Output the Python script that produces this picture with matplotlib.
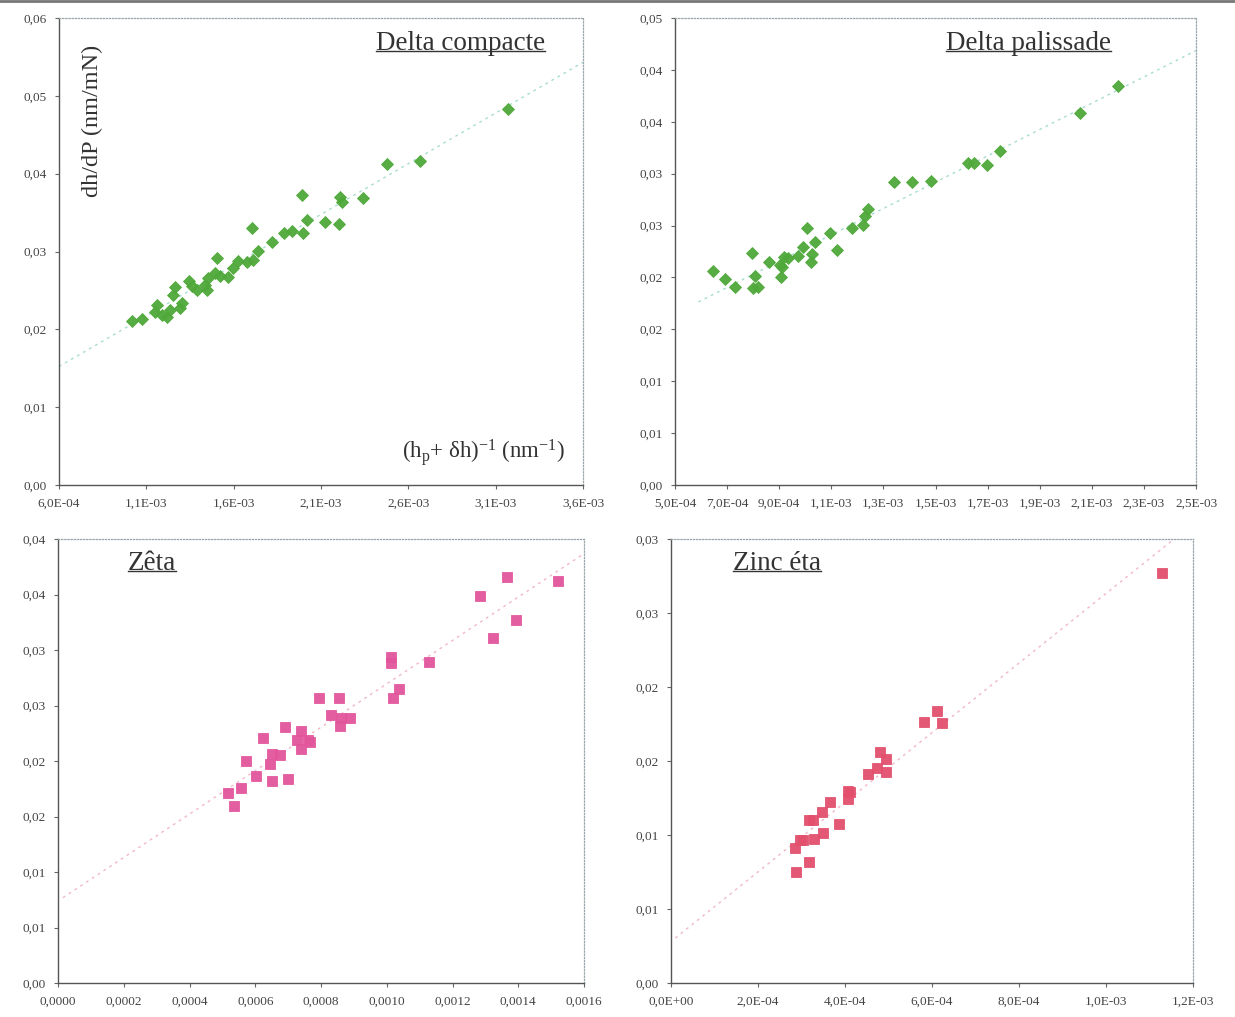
import math
import numpy as np
import matplotlib
matplotlib.use("Agg")
import matplotlib.pyplot as plt
from matplotlib.ticker import FuncFormatter, FixedLocator
from matplotlib.lines import Line2D

plt.rcParams['font.family'] = ['Liberation Serif', 'DejaVu Serif']
plt.rcParams['mathtext.fontset'] = 'custom'
plt.rcParams['mathtext.rm'] = 'Liberation Serif'
plt.rcParams['mathtext.it'] = 'Liberation Serif:italic'

# ---------------- data ----------------
dc_x = [1.016e-3, 1.073e-3, 1.150e-3, 1.159e-3, 1.188e-3, 1.217e-3, 1.235e-3, 1.254e-3,
        1.264e-3, 1.293e-3, 1.302e-3, 1.346e-3, 1.360e-3, 1.388e-3, 1.436e-3, 1.449e-3,
        1.455e-3, 1.493e-3, 1.503e-3, 1.522e-3, 1.569e-3, 1.598e-3, 1.627e-3, 1.675e-3,
        1.703e-3, 1.712e-3, 1.741e-3, 1.818e-3, 1.888e-3, 1.932e-3, 1.990e-3, 1.999e-3,
        2.022e-3, 2.123e-3, 2.205e-3, 2.209e-3, 2.219e-3, 2.342e-3, 2.476e-3, 2.667e-3,
        3.172e-3]
dc_y = [0.02111, 0.02129, 0.02227, 0.02313, 0.02184, 0.02162, 0.02248, 0.02441,
        0.02540, 0.02270, 0.02342, 0.02625, 0.02557, 0.02505, 0.02570, 0.02505,
        0.02656, 0.02720, 0.02920, 0.02685, 0.02676, 0.02784, 0.02878, 0.02869,
        0.03298, 0.02891, 0.03007, 0.03126, 0.03234, 0.03264, 0.03726, 0.03242,
        0.03405, 0.03383, 0.03353, 0.03704, 0.03640, 0.03684, 0.04124, 0.04167,
        0.04827]

dp_x = [6.47e-4, 6.92e-4, 7.30e-4, 7.94e-4, 8.07e-4, 8.01e-4, 8.20e-4, 8.61e-4,
        9.07e-4, 9.03e-4, 9.12e-4, 9.20e-4, 9.35e-4, 9.73e-4, 9.93e-4, 1.006e-3,
        1.025e-3, 1.022e-3, 1.037e-3, 1.095e-3, 1.121e-3, 1.178e-3, 1.221e-3, 1.231e-3,
        1.242e-3, 1.341e-3, 1.411e-3, 1.483e-3, 1.626e-3, 1.648e-3, 1.697e-3, 1.748e-3,
        2.055e-3, 2.202e-3]
dp_y = [0.02062, 0.01985, 0.01911, 0.02233, 0.02014, 0.01895, 0.01911, 0.02146,
        0.02007, 0.02120, 0.02098, 0.02200, 0.02184, 0.02209, 0.02290, 0.02479,
        0.02226, 0.02152, 0.02344, 0.02431, 0.02264, 0.02479, 0.02502, 0.02592,
        0.02657, 0.02915, 0.02920, 0.02929, 0.03106, 0.03106, 0.03086, 0.03218,
        0.03582, 0.03848]

ze_x = [0.5180e-3, 0.5363e-3, 0.5567e-3, 0.5719e-3, 0.6014e-3, 0.6245e-3, 0.6449e-3,
        0.6519e-3, 0.6519e-3, 0.6753e-3, 0.6905e-3, 0.6987e-3, 0.7261e-3, 0.7392e-3,
        0.7392e-3, 0.7614e-3, 0.7665e-3, 0.7939e-3, 0.8304e-3, 0.8548e-3, 0.8608e-3,
        0.8882e-3, 0.8578e-3, 1.0129e-3, 1.0129e-3, 1.0199e-3, 1.0373e-3, 1.1285e-3,
        1.2837e-3, 1.3649e-3, 1.3932e-3, 1.3241e-3, 1.5200e-3]
ze_y = [0.01714, 0.01595, 0.01759, 0.02000, 0.01865, 0.02207, 0.01973,
        0.01820, 0.02060, 0.02054, 0.02304, 0.01835, 0.02189, 0.02270,
        0.02105, 0.02189, 0.02168, 0.02565, 0.02412, 0.02570, 0.02385,
        0.02385, 0.02318, 0.02937, 0.02883, 0.02565, 0.02646, 0.02895,
        0.03486, 0.03660, 0.03270, 0.03111, 0.03624]

zn_x = [0.2874e-3, 0.3172e-3, 0.2851e-3, 0.2966e-3, 0.3041e-3, 0.3287e-3, 0.3501e-3,
        0.3179e-3, 0.3271e-3, 0.3464e-3, 0.3655e-3, 0.3869e-3, 0.4076e-3, 0.4115e-3,
        0.4062e-3, 0.4536e-3, 0.4743e-3, 0.4805e-3, 0.4943e-3, 0.4936e-3, 0.5816e-3,
        0.6108e-3, 0.6237e-3, 1.1287e-3]
zn_y = [0.00752, 0.00820, 0.00910, 0.00966, 0.00966, 0.00971, 0.01011,
        0.01101, 0.01101, 0.01153, 0.01225, 0.01074, 0.01297, 0.01293,
        0.01243, 0.01410, 0.01451, 0.01563, 0.01511, 0.01424, 0.01766,
        0.01840, 0.01755, 0.02770]

titles = ["Delta compacte", "Delta palissade", "Zêta", "Zinc éta"]

# ---------------- formatters ----------------
def fmt_dec(nd):
    def f(v, pos):
        q = 10 ** nd
        r = math.floor(abs(v) * q + 0.5 + 1e-9) / q
        return (f"{r:.{nd}f}").replace('.', ',')
    return FuncFormatter(f)

def fmt_sci(v, pos):
    if abs(v) < 1e-15:
        return "0,0E+00"
    e = int(math.floor(math.log10(abs(v)) + 1e-9))
    m = v / 10 ** e
    m = math.floor(m * 10 + 0.5 + 1e-9) / 10
    if m >= 10:
        m /= 10
        e += 1
    sign = '+' if e >= 0 else '-'
    return f"{m:.1f}".replace('.', ',') + f"E{sign}{abs(e):02d}"

def ticks(lo, hi, step):
    n = int(round((hi - lo) / step))
    return [lo + i * step for i in range(n + 1)]

fig = plt.figure(figsize=(12.35, 10.17), dpi=100)
fig.patch.set_facecolor('white')

green = '#4fa83a'
pink = '#e2559c'
red = '#e2506e'

panels = [
    dict(rect=[59/1235, 1-485/1017, 524/1235, 467/1017], x=dc_x, y=dc_y,
         xlim=(6e-4, 3.6e-3), xstep=5e-4, ylim=(0, 0.06), ystep=0.01,
         xfmt=FuncFormatter(fmt_sci), marker='D', color=green, ms=6,
         line=(6e-4, 3.6e-3), lcolor='#a8dcd0', title=titles[0], tpos=(0.767, 0.945)),
    dict(rect=[675/1235, 1-485/1017, 521/1235, 467/1017], x=dp_x, y=dp_y,
         xlim=(5e-4, 2.5e-3), xstep=2e-4, ylim=(0, 0.045), ystep=0.005,
         xfmt=FuncFormatter(fmt_sci), marker='D', color=green, ms=6,
         line=(5.9e-4, 2.5e-3), lcolor='#a8dcd0', title=titles[1], tpos=(0.679, 0.945)),
    dict(rect=[58/1235, 1-983/1017, 526/1235, 444/1017], x=ze_x, y=ze_y,
         xlim=(0, 1.6e-3), xstep=2e-4, ylim=(0, 0.04), ystep=0.005,
         xfmt=fmt_dec(4), marker='s', color=pink, ms=7.5,
         line=(1.5e-5, 1.6e-3), lcolor='#f0b8c8', title=titles[2], tpos=(0.179, 0.945)),
    dict(rect=[671/1235, 1-983/1017, 522/1235, 444/1017], x=zn_x, y=zn_y,
         xlim=(0, 1.2e-3), xstep=2e-4, ylim=(0, 0.03), ystep=0.005,
         xfmt=FuncFormatter(fmt_sci), marker='s', color=red, ms=7.5,
         line=(1.0e-5, 1.2e-3), lcolor='#f0b8c8', title=titles[3], tpos=(0.203, 0.945)),
]

axes = []
for p in panels:
    ax = fig.add_axes(p['rect'])
    axes.append(ax)
    ax.set_xlim(*p['xlim'])
    ax.set_ylim(*p['ylim'])
    ax.xaxis.set_major_locator(FixedLocator(ticks(p['xlim'][0], p['xlim'][1], p['xstep'])))
    ax.yaxis.set_major_locator(FixedLocator(ticks(p['ylim'][0], p['ylim'][1], p['ystep'])))
    ax.xaxis.set_major_formatter(p['xfmt'])
    ax.yaxis.set_major_formatter(fmt_dec(2))
    ax.tick_params(axis='both', labelsize=9.5, labelcolor='#444444', color='#666666',
                   length=3, width=0.8, direction='out')
    ax.tick_params(axis='y', pad=6)
    ax.tick_params(axis='x', pad=6)
    for side in ['left', 'bottom']:
        ax.spines[side].set_color('#555555')
        ax.spines[side].set_linewidth(1.0)
    for side in ['top', 'right']:
        ax.spines[side].set_color('#9aa6aa')
        ax.spines[side].set_linewidth(0.9)
        ax.spines[side].set_linestyle((0, (1, 1.5)))
    # trend line (least squares fit of the points)
    xs = np.array(p['x']); ys = np.array(p['y'])
    k, b = np.polyfit(xs, ys, 1)
    lx = np.array(p['line'])
    ax.plot(lx, k * lx + b, color=p['lcolor'], lw=1.0, linestyle=(0, (2, 3)), zorder=1)
    ax.plot(xs, ys, linestyle='none', marker=p['marker'], ms=p['ms'],
            mfc=p['color'], mec=p['color'], mew=0.6, alpha=0.95, zorder=3)
    p['title_artist'] = ax.text(p['tpos'][0], p['tpos'][1], p['title'], transform=ax.transAxes,
                                ha='center', va='center', fontsize=19.5, color='#333333')

# axis labels inside the first panel
ax0 = axes[0]
ax0.text(0.063, 0.78, "dh/dP (nm/mN)", transform=ax0.transAxes, rotation=90,
         ha='center', va='center', fontsize=17.5, color='#333333')
ax0.text(0.965, 0.07, r"(h$_\mathrm{p}$+ $\mathrm{\delta}$h)$^{\mathrm{-1}}$ (nm$^{\mathrm{-1}}$)",
         transform=ax0.transAxes, ha='right', va='center', fontsize=16.5, color='#333333')

# underline the titles
fig.canvas.draw()
renderer = fig.canvas.get_renderer()
inv = fig.transFigure.inverted()
for p in panels:
    t = p['title_artist']
    bb = t.get_window_extent(renderer)
    yl = bb.y0 + 0.2 * bb.height
    (x0, y0), (x1, _) = inv.transform([[bb.x0, yl], [bb.x1, yl]])
    fig.add_artist(Line2D([x0, x1], [y0, y0], color='#333333', lw=1.0))

# scan edge at the top
fig.add_artist(Line2D([0, 1], [0.999, 0.999], color='#777777', lw=2))

fig.savefig("out.png", dpi=100, facecolor='white')
